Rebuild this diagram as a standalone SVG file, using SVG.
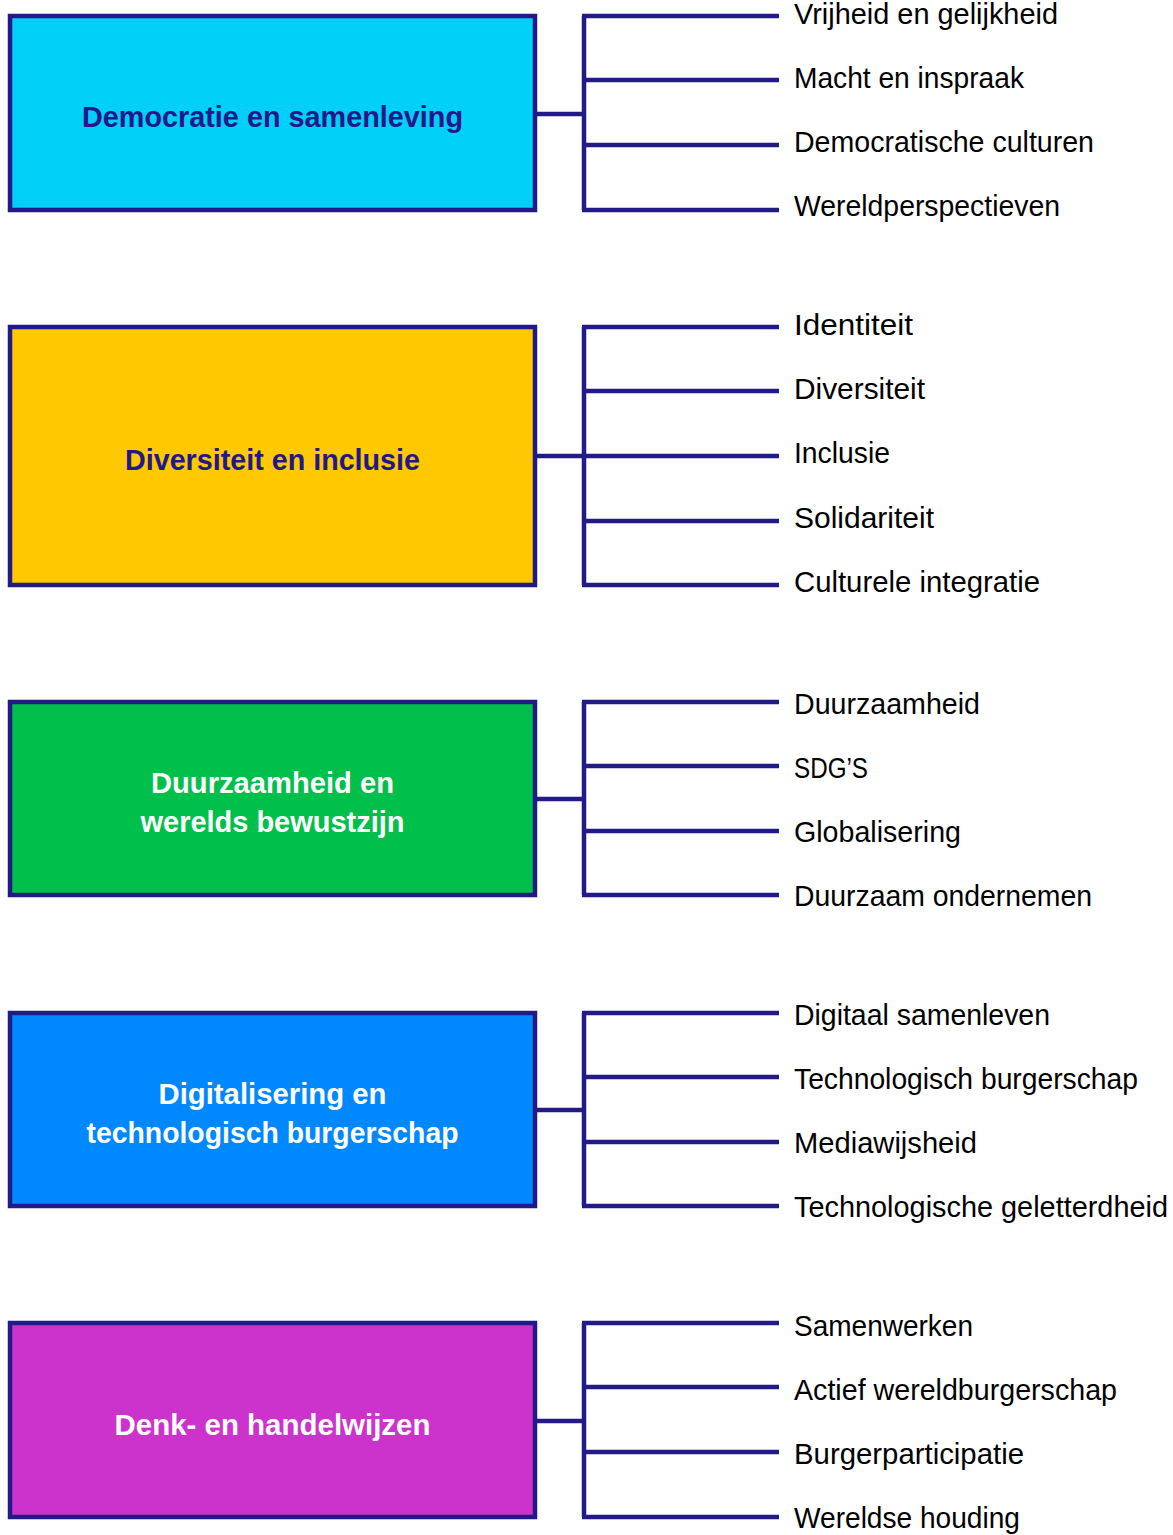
<svg xmlns="http://www.w3.org/2000/svg" width="1173" height="1535" viewBox="0 0 1173 1535">
<style>
.box{stroke:#221a87;stroke-width:4.5}
.lbl{font-family:"Liberation Sans",Arial,sans-serif;font-weight:bold;font-size:30px;text-anchor:middle}
.item{font-family:"Liberation Sans",Arial,sans-serif;font-size:29px;fill:#000}
.conn{stroke:#221a87;stroke-width:4.5;fill:none}
.dark{fill:#22188a}
.light{fill:#ffffff}
</style>
<rect width="1173" height="1535" fill="#ffffff"/>
<g id="connectors">
<path class="conn" d="M537 114H584M584 16V210M582 16H779M584 80H779M584 145H779M582 210H779"/>
<path class="conn" d="M537 456H584M584 327V585M582 327H779M584 391H779M584 456H779M584 521H779M582 585H779"/>
<path class="conn" d="M537 799H584M584 702V895M582 702H779M584 766H779M584 831H779M582 895H779"/>
<path class="conn" d="M537 1110H584M584 1013V1206M582 1013H779M584 1077H779M584 1142H779M582 1206H779"/>
<path class="conn" d="M537 1421H584M584 1323V1517M582 1323H779M584 1387H779M584 1452H779M582 1517H779"/>
</g>
<g id="node-democratie">
<rect class="box" x="10" y="16" width="525" height="194" fill="#00cff7"/>
<text class="lbl dark" x="272.5" y="127" textLength="381" lengthAdjust="spacingAndGlyphs">Democratie en samenleving</text>
</g>
<g id="node-diversiteit">
<rect class="box" x="10" y="327" width="525" height="258" fill="#ffc800"/>
<text class="lbl dark" x="272.5" y="470" textLength="295" lengthAdjust="spacingAndGlyphs">Diversiteit en inclusie</text>
</g>
<g id="node-duurzaamheid">
<rect class="box" x="10" y="702" width="525" height="193" fill="#00c04b"/>
<text class="lbl light" x="272.5" y="793" textLength="243" lengthAdjust="spacingAndGlyphs">Duurzaamheid en</text>
<text class="lbl light" x="272.5" y="832" textLength="264" lengthAdjust="spacingAndGlyphs">werelds bewustzijn</text>
</g>
<g id="node-digitalisering">
<rect class="box" x="10" y="1013" width="525" height="193" fill="#0088ff"/>
<text class="lbl light" x="272.5" y="1104" textLength="228" lengthAdjust="spacingAndGlyphs">Digitalisering en</text>
<text class="lbl light" x="272.5" y="1143" textLength="372" lengthAdjust="spacingAndGlyphs">technologisch burgerschap</text>
</g>
<g id="node-denk">
<rect class="box" x="10" y="1323" width="525" height="194" fill="#cc33cc"/>
<text class="lbl light" x="272.5" y="1435" textLength="316" lengthAdjust="spacingAndGlyphs">Denk- en handelwijzen</text>
</g>
<g id="items-democratie">
<text class="item" x="794" y="24" textLength="264" lengthAdjust="spacingAndGlyphs">Vrijheid en gelijkheid</text>
<text class="item" x="794" y="88" textLength="230" lengthAdjust="spacingAndGlyphs">Macht en inspraak</text>
<text class="item" x="794" y="152" textLength="300" lengthAdjust="spacingAndGlyphs">Democratische culturen</text>
<text class="item" x="794" y="216" textLength="266" lengthAdjust="spacingAndGlyphs">Wereldperspectieven</text>
</g>
<g id="items-diversiteit">
<text class="item" x="794" y="335" textLength="119" lengthAdjust="spacingAndGlyphs">Identiteit</text>
<text class="item" x="794" y="399" textLength="131" lengthAdjust="spacingAndGlyphs">Diversiteit</text>
<text class="item" x="794" y="463" textLength="96" lengthAdjust="spacingAndGlyphs">Inclusie</text>
<text class="item" x="794" y="528" textLength="140" lengthAdjust="spacingAndGlyphs">Solidariteit</text>
<text class="item" x="794" y="592" textLength="246" lengthAdjust="spacingAndGlyphs">Culturele integratie</text>
</g>
<g id="items-duurzaamheid">
<text class="item" x="794" y="714" textLength="186" lengthAdjust="spacingAndGlyphs">Duurzaamheid</text>
<text class="item" x="794" y="778" textLength="74" lengthAdjust="spacingAndGlyphs">SDG’S</text>
<text class="item" x="794" y="842" textLength="167" lengthAdjust="spacingAndGlyphs">Globalisering</text>
<text class="item" x="794" y="906" textLength="298" lengthAdjust="spacingAndGlyphs">Duurzaam ondernemen</text>
</g>
<g id="items-digitalisering">
<text class="item" x="794" y="1025" textLength="256" lengthAdjust="spacingAndGlyphs">Digitaal samenleven</text>
<text class="item" x="794" y="1089" textLength="344" lengthAdjust="spacingAndGlyphs">Technologisch burgerschap</text>
<text class="item" x="794" y="1153" textLength="183" lengthAdjust="spacingAndGlyphs">Mediawijsheid</text>
<text class="item" x="794" y="1217" textLength="374" lengthAdjust="spacingAndGlyphs">Technologische geletterdheid</text>
</g>
<g id="items-denk">
<text class="item" x="794" y="1336" textLength="179" lengthAdjust="spacingAndGlyphs">Samenwerken</text>
<text class="item" x="794" y="1400" textLength="323" lengthAdjust="spacingAndGlyphs">Actief wereldburgerschap</text>
<text class="item" x="794" y="1464" textLength="230" lengthAdjust="spacingAndGlyphs">Burgerparticipatie</text>
<text class="item" x="794" y="1528" textLength="226" lengthAdjust="spacingAndGlyphs">Wereldse houding</text>
</g>
</svg>
